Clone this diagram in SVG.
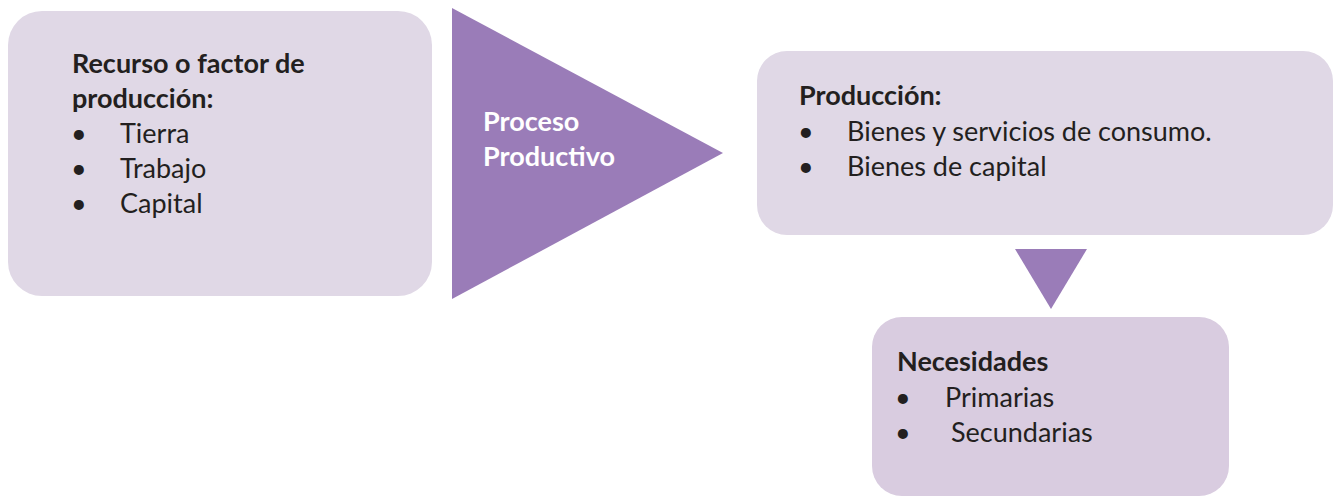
<svg xmlns="http://www.w3.org/2000/svg" width="1335" height="497" viewBox="0 0 1335 497">
<style>
.box{fill:#E0D8E6}
.box2{fill:#D9CCE0}
.arrow{fill:#9A7CB8}
text{font-family:Lato,"Liberation Sans",sans-serif;font-size:27px;fill:#231F20}
.b{font-weight:bold}
.w{fill:#FFFFFF;font-weight:bold}
</style>
<rect width="1335" height="497" fill="#FFFFFF"/>
<g id="recursos">
<rect class="box" x="8" y="11" width="424" height="285" rx="34" ry="34"/>
<text class="b" x="72" y="73">Recurso o factor de</text>
<text class="b" x="72" y="108">producción:</text>
<text x="71" y="143">•</text><text x="120" y="143">Tierra</text>
<text x="71" y="178">•</text><text x="120" y="178">Trabajo</text>
<text x="71" y="213">•</text><text x="120" y="213">Capital</text>
</g>
<g id="connectors">
<polygon id="proceso-arrow" class="arrow" points="452,8 723,153 452,299"/>
<polygon id="down-arrow" class="arrow" points="1015,249 1087,249 1051,309"/>
</g>
<g id="proceso">
<text class="w" x="483" y="131">Proceso</text>
<text class="w" x="483" y="166">Productivo</text>
</g>
<g id="produccion">
<rect class="box" x="757" y="51" width="576" height="184" rx="30" ry="30"/>
<text class="b" x="799" y="105">Producción:</text>
<text x="798" y="141">•</text><text x="847" y="141">Bienes y servicios de consumo.</text>
<text x="798" y="176">•</text><text x="847" y="176">Bienes de capital</text>
</g>
<g id="necesidades">
<rect class="box2" x="872" y="317" width="357" height="179" rx="30" ry="30"/>
<text class="b" x="897" y="371">Necesidades</text>
<text x="895" y="407">•</text><text x="945" y="407">Primarias</text>
<text x="895" y="442">•</text><text x="951" y="442">Secundarias</text>
</g>
</svg>
